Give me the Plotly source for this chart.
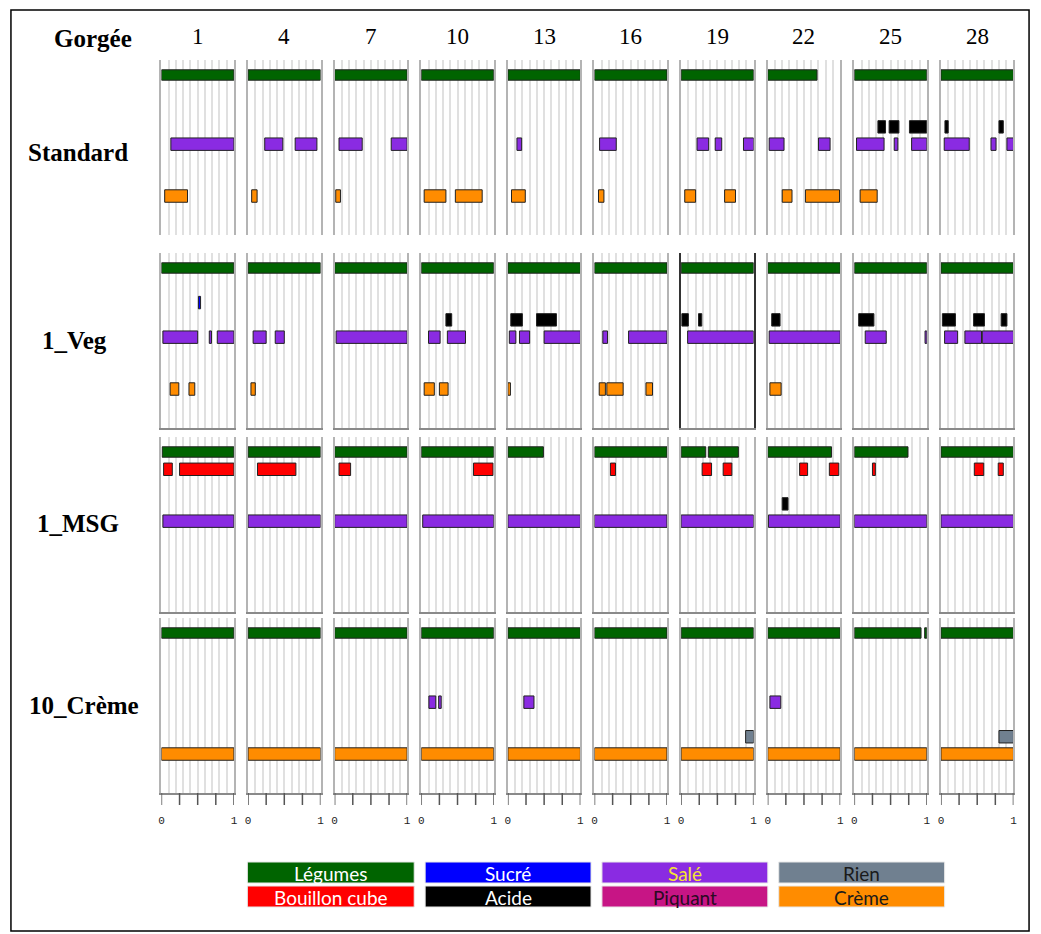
import plotly.graph_objects as go

# taste levels, top to bottom inside each panel
tastes = ['leg', 'bou', 'suc', 'aci', 'sal', 'piq', 'rie', 'cre']
taste_names = ['Légumes', 'Bouillon cube', 'Sucré', 'Acide', 'Salé', 'Piquant', 'Rien', 'Crème']
taste_colors = ['#006400', '#FF0000', '#0000FF', '#000000', '#8A2BE2', '#C71585', '#708090', '#FF8C00']
legend_text_colors = ['white', 'white', 'white', 'white', '#F5E431', '#2a0a22', '#1a1a1a', '#1a1a1a']

gorgees = [1, 4, 7, 10, 13, 16, 19, 22, 25, 28]
conditions = ['Standard', '1_Veg', '1_MSG', '10_Crème']

# (taste, start, end) per panel, time normalised 0..1
standard = [
    [('leg', 0, 1), ('sal', 0.13, 1), ('cre', 0.045, 0.36)],
    [('leg', 0, 1), ('sal', 0.23, 0.48), ('sal', 0.65, 0.95), ('cre', 0.05, 0.125)],
    [('leg', 0, 1), ('sal', 0.06, 0.38), ('sal', 0.78, 1), ('cre', 0.015, 0.08)],
    [('leg', 0, 1), ('cre', 0.04, 0.34), ('cre', 0.47, 0.84)],
    [('leg', 0, 1), ('sal', 0.125, 0.19), ('cre', 0.05, 0.24)],
    [('leg', 0, 1), ('sal', 0.07, 0.30), ('cre', 0.055, 0.13)],
    [('leg', 0, 1), ('sal', 0.22, 0.38), ('sal', 0.47, 0.56), ('sal', 0.86, 1),
     ('cre', 0.05, 0.2), ('cre', 0.6, 0.75)],
    [('leg', 0, 0.68), ('sal', 0.02, 0.225), ('sal', 0.7, 0.86),
     ('cre', 0.2, 0.335), ('cre', 0.52, 0.99)],
    [('leg', 0, 1), ('aci', 0.325, 0.43), ('aci', 0.48, 0.615), ('aci', 0.76, 1),
     ('sal', 0.03, 0.41), ('sal', 0.55, 0.6), ('sal', 0.79, 1), ('cre', 0.08, 0.315)],
    [('leg', 0, 1), ('aci', 0.055, 0.1), ('aci', 0.8, 0.86),
     ('sal', 0.045, 0.39), ('sal', 0.69, 0.76), ('sal', 0.91, 1)],
]

veg = [
    [('leg', 0, 1), ('suc', 0.51, 0.54), ('sal', 0.02, 0.5), ('sal', 0.66, 0.69), ('sal', 0.77, 1),
     ('cre', 0.12, 0.24), ('cre', 0.38, 0.46)],
    [('leg', 0, 1), ('sal', 0.07, 0.25), ('sal', 0.375, 0.5), ('cre', 0.04, 0.1)],
    [('leg', 0, 1), ('sal', 0.02, 1)],
    [('leg', 0, 1), ('aci', 0.34, 0.42), ('sal', 0.1, 0.26), ('sal', 0.36, 0.61),
     ('cre', 0.04, 0.18), ('cre', 0.25, 0.37)],
    [('leg', 0, 1), ('aci', 0.04, 0.2), ('aci', 0.395, 0.67),
     ('sal', 0.02, 0.11), ('sal', 0.16, 0.3), ('sal', 0.5, 1), ('cre', 0, 0.035)],
    [('leg', 0, 1), ('sal', 0.115, 0.18), ('sal', 0.47, 1),
     ('cre', 0.065, 0.15), ('cre', 0.17, 0.395), ('cre', 0.71, 0.8)],
    [('leg', 0, 1), ('aci', 0.01, 0.1), ('aci', 0.24, 0.285), ('sal', 0.09, 1)],
    [('leg', 0, 1), ('aci', 0.055, 0.17), ('sal', 0.02, 1), ('cre', 0.03, 0.185)],
    [('leg', 0, 1), ('aci', 0.06, 0.27), ('sal', 0.15, 0.44), ('sal', 0.975, 1)],
    [('leg', 0, 1), ('aci', 0.02, 0.2), ('aci', 0.45, 0.6), ('aci', 0.83, 0.91),
     ('sal', 0.05, 0.23), ('sal', 0.33, 0.56), ('sal', 0.57, 1)],
]

msg = [
    [('leg', 0.01, 1), ('bou', 0.03, 0.15), ('bou', 0.25, 1), ('sal', 0.02, 1)],
    [('leg', 0, 1), ('bou', 0.13, 0.66), ('sal', 0, 1)],
    [('leg', 0, 1), ('bou', 0.06, 0.22), ('sal', 0, 1)],
    [('leg', 0, 1), ('bou', 0.72, 0.99), ('sal', 0.02, 1)],
    [('leg', 0, 0.49), ('sal', 0, 1)],
    [('leg', 0, 1), ('bou', 0.22, 0.29), ('sal', 0, 1)],
    [('leg', 0, 0.34), ('leg', 0.375, 0.79), ('bou', 0.29, 0.42), ('bou', 0.58, 0.7), ('sal', 0, 1)],
    [('leg', 0, 0.88), ('bou', 0.44, 0.55), ('bou', 0.85, 0.98), ('aci', 0.2, 0.28), ('sal', 0.01, 1)],
    [('leg', 0, 0.74), ('bou', 0.25, 0.29), ('sal', 0, 1)],
    [('leg', 0, 1), ('bou', 0.46, 0.59), ('bou', 0.79, 0.86), ('sal', 0, 1)],
]

creme = [
    [('leg', 0, 1), ('cre', 0, 1)],
    [('leg', 0, 1), ('cre', 0, 1)],
    [('leg', 0, 1), ('cre', 0, 1)],
    [('leg', 0, 1), ('sal', 0.105, 0.2), ('sal', 0.24, 0.275), ('cre', 0, 1)],
    [('leg', 0, 1), ('sal', 0.22, 0.36), ('cre', 0, 1)],
    [('leg', 0, 1), ('cre', 0, 1)],
    [('leg', 0, 1), ('rie', 0.89, 1), ('cre', 0, 1)],
    [('leg', 0, 1), ('sal', 0.03, 0.18), ('cre', 0, 1)],
    [('leg', 0, 0.92), ('leg', 0.97, 1), ('cre', 0, 1)],
    [('leg', 0, 1), ('rie', 0.8, 1), ('cre', 0, 1)],
]

rows_data = [standard, veg, msg, creme]

W, H = 1041, 934
col_left0, col_pitch, col_w = 159.5, 87.2, 73.0
row_tops = [60, 253, 437, 618]
row_h = 175.0
lvl_step = 17.29
y_top = -15.0 / lvl_step
y_bottom = y_top + row_h / lvl_step


def px(x):
    return x / W


def py(y):
    return 1 - y / H


def label(x, y, text, font):
    return dict(x=px(x), y=py(y), xref='paper', yref='paper', text=text,
                showarrow=False, xanchor='center', yanchor='middle', font=font)


fig = go.Figure()
layout = dict(
    width=W, height=H,
    margin=dict(l=0, r=0, t=0, b=0),
    paper_bgcolor='white', plot_bgcolor='white',
    showlegend=False, barmode='overlay',
    shapes=[], annotations=[],
)

bold_serif = dict(family='Liberation Serif', size=25, color='black')
num_serif = dict(family='Liberation Serif', size=23, color='black')

for r, row in enumerate(rows_data):
    for c, panel in enumerate(row):
        idx = r * 10 + c + 1
        xa = 'x' if idx == 1 else 'x%d' % idx
        ya = 'y' if idx == 1 else 'y%d' % idx
        lv = [tastes.index(t) for t, s, e in panel]
        fig.add_trace(go.Bar(
            orientation='h',
            y=lv,
            x=[e - s for t, s, e in panel],
            base=[s for t, s, e in panel],
            width=[0.6 if l == 0 else 0.72 for l in lv],
            marker=dict(color=[taste_colors[l] for l in lv],
                        line=dict(color='#222222', width=1)),
            xaxis=xa, yaxis=ya,
        ))
        left = col_left0 + c * col_pitch
        top = row_tops[r]
        last = r == 3
        layout['xaxis' + ('' if idx == 1 else str(idx))] = dict(
            domain=[px(left), px(left + col_w)],
            anchor=ya, range=[0, 1], fixedrange=True, zeroline=False,
            tickmode='array',
            tickvals=[i / 10 for i in range(11)],
            ticktext=['0'] + [''] * 9 + ['1'] if last else [''] * 11,
            showticklabels=last,
            ticks='outside' if last else '', ticklen=16, tickcolor='rgba(0,0,0,0)',
            tickfont=dict(family='Liberation Mono', size=11, color='#222222'),
            showgrid=True, gridcolor='#e0e0e0', gridwidth=1.5,
            showline=r > 0, linecolor='#8a8a8a', linewidth=1.5,
        )
        layout['yaxis' + ('' if idx == 1 else str(idx))] = dict(
            domain=[py(top + row_h), py(top)],
            anchor=xa, range=[y_bottom, y_top], fixedrange=True,
            showticklabels=False, showgrid=False, zeroline=False, ticks='',
            showline=True, mirror=True,
            linecolor='#333333' if (r == 1 and c == 6) else '#b4b4b4',
            linewidth=1.5 if (r == 1 and c == 6) else 2,
        )
        if last:
            for v in [0, 0.25, 0.5, 0.75, 1]:
                layout['shapes'].append(dict(
                    type='line', xref=xa, yref=ya + ' domain',
                    x0=v, x1=v, y0=0, y1=-12 / row_h,
                    line=dict(color='#555555', width=1.5)))
        if r == 0:
            layout['annotations'].append(
                label(left + col_w / 2, 37, str(gorgees[c]), num_serif))

# header and row labels
layout['annotations'].append(label(91, 39, '<b>Gorgée</b>', bold_serif))
row_label_pos = [(76, 152), (72, 340), (76, 523), (82, 705)]
for name, (lx, ly) in zip(conditions, row_label_pos):
    layout['annotations'].append(label(lx, ly, '<b>%s</b>' % name, bold_serif))

# colour key at the bottom
key_order = [0, 2, 4, 6, 1, 3, 5, 7]
key_x = [(246, 414), (425, 592), (603, 770), (781, 948)]
key_y = [(862, 883), (886, 907)]
for k, t in enumerate(key_order):
    x0, x1 = key_x[k % 4]
    y0, y1 = key_y[k // 4]
    layout['shapes'].append(dict(
        type='rect', xref='paper', yref='paper',
        x0=px(x0), x1=px(x1), y0=py(y1), y1=py(y0),
        fillcolor=taste_colors[t], line=dict(color='#e8e8e8', width=1)))
    layout['annotations'].append(label(
        (x0 + x1) / 2, (y0 + y1) / 2 + 1, taste_names[t],
        dict(family='Lato', size=19, color=legend_text_colors[t])))

# outer frame
layout['shapes'].append(dict(
    type='rect', xref='paper', yref='paper',
    x0=px(8), x1=px(1033), y0=py(931), y1=py(10),
    line=dict(color='black', width=1.5)))

fig.update_layout(**layout)
fig.write_html('out.html', config={'displayModeBar': False},
               post_script="document.body.style.margin='0';")
